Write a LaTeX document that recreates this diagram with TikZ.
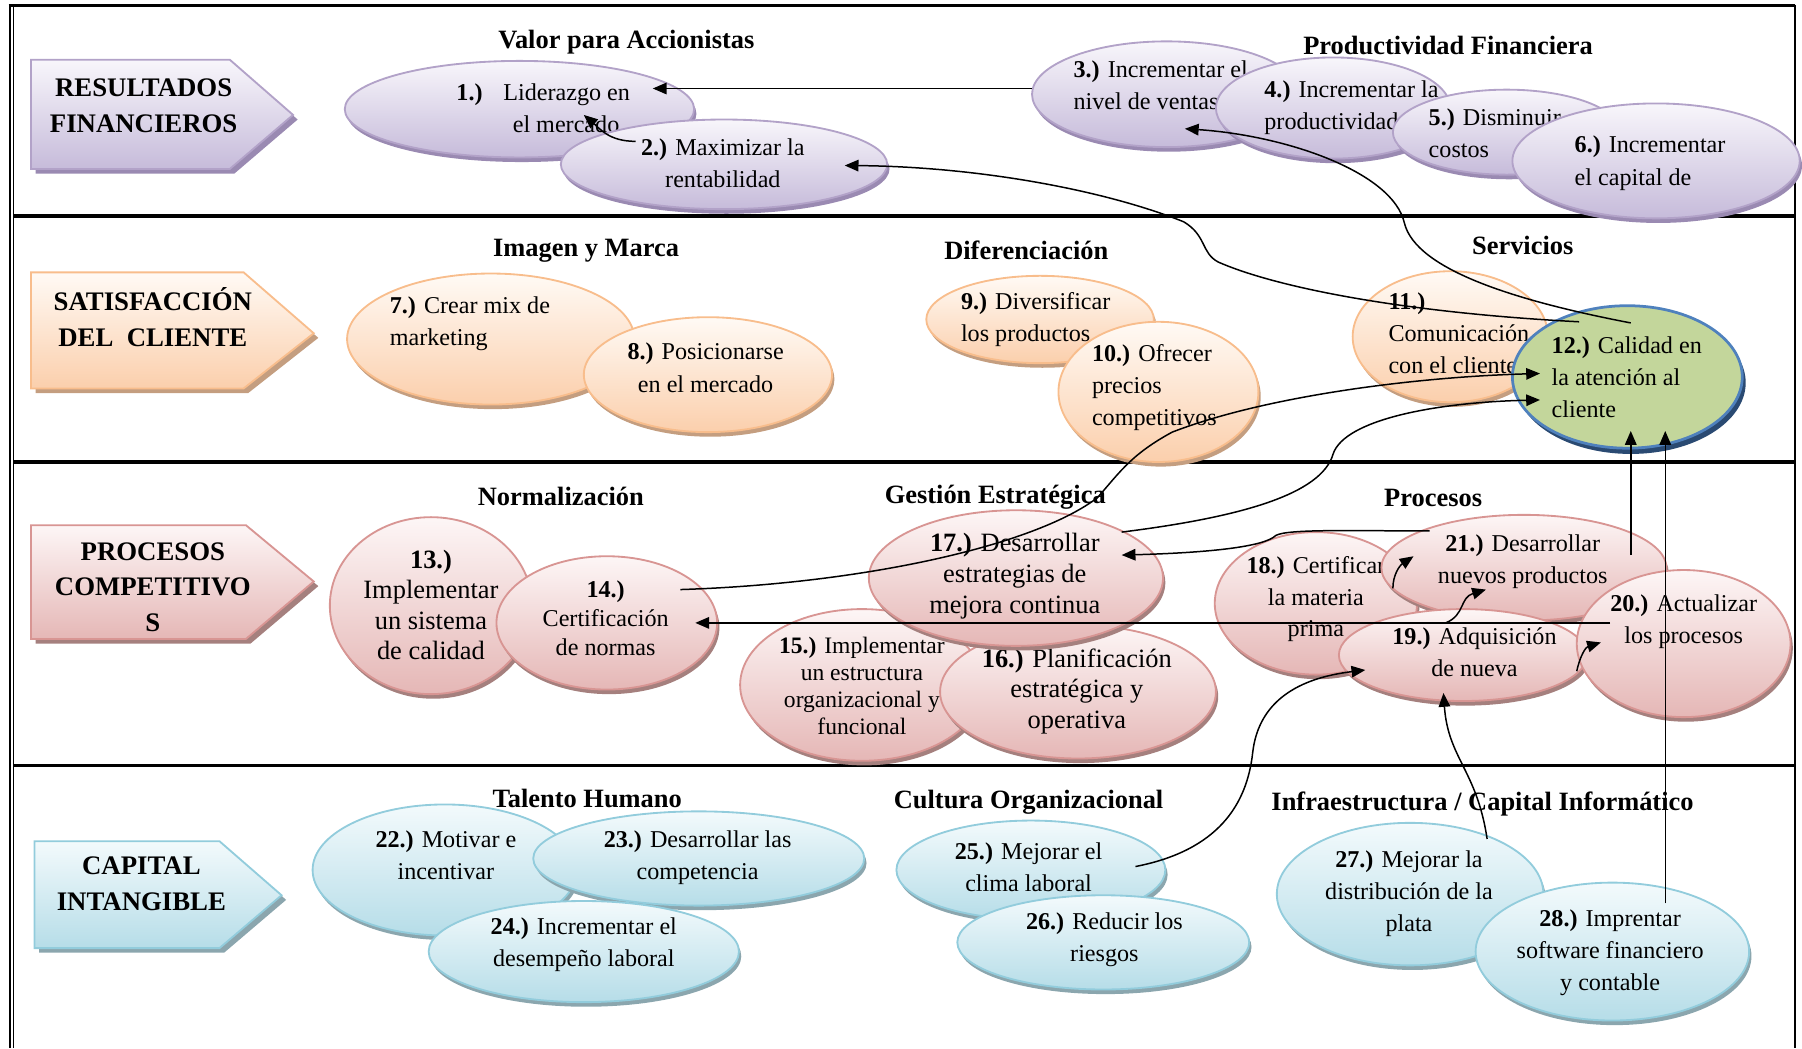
\documentclass[tikz,border=0pt]{standalone}
\usepackage{fontspec}
\setmainfont{Liberation Serif}
\usetikzlibrary{shapes.geometric,shadows,arrows.meta,calc}

% fills, borders and shadow tones of the four perspectives
\definecolor{purTop}{HTML}{F8F6FB}
\definecolor{purBot}{HTML}{C6BBDA}
\definecolor{purLine}{HTML}{B2A2C8}
\definecolor{purShade}{HTML}{9A8AB2}
\definecolor{pchTop}{HTML}{FFFAF5}
\definecolor{pchBot}{HTML}{FBCFAC}
\definecolor{pchLine}{HTML}{F8BD8C}
\definecolor{pchShade}{HTML}{C49E80}
\definecolor{rosTop}{HTML}{FDF6F6}
\definecolor{rosBot}{HTML}{E5B7B6}
\definecolor{rosLine}{HTML}{D89593}
\definecolor{rosShade}{HTML}{A5807E}
\definecolor{bluTop}{HTML}{F3FAFC}
\definecolor{bluBot}{HTML}{B6DDE8}
\definecolor{bluLine}{HTML}{92CCDC}
\definecolor{bluShade}{HTML}{8BA6AE}
\definecolor{grnFill}{HTML}{C3D69B}
\definecolor{grnLine}{HTML}{4F81BD}
\definecolor{grnShade}{HTML}{2A4A72}

\newcommand\nro[1]{\textbf{#1.)}}

\tikzset{
  bub/.style={ellipse, inner sep=0pt, outer sep=0pt, line width=1.6pt},
  bubpur/.style={bub, draw=purLine, top color=purTop, bottom color=purBot,
    drop shadow={shadow xshift=2pt, shadow yshift=-4pt, fill=purShade, opacity=1}},
  bubpch/.style={bub, draw=pchLine, top color=pchTop, bottom color=pchBot,
    drop shadow={shadow xshift=2pt, shadow yshift=-4pt, fill=pchShade, opacity=1}},
  bubros/.style={bub, draw=rosLine, top color=rosTop, bottom color=rosBot,
    drop shadow={shadow xshift=2pt, shadow yshift=-4pt, fill=rosShade, opacity=1}},
  bubblu/.style={bub, draw=bluLine, top color=bluTop, bottom color=bluBot,
    drop shadow={shadow xshift=2pt, shadow yshift=-4pt, fill=bluShade, opacity=1}},
  bubgrn/.style={bub, draw=grnLine, line width=2.4pt, fill=grnFill,
    drop shadow={shadow xshift=3pt, shadow yshift=-5pt, fill=grnShade, opacity=1}},
  txt/.style={inner sep=0pt, align=center, font=\fontsize{21}{28}\selectfont},
  ltxt/.style={txt, align=left, anchor=west},
  bigtxt/.style={txt, font=\fontsize{23}{26.5}\selectfont},
  ttl/.style={inner sep=0pt, font=\bfseries\fontsize{23}{27}\selectfont},
  rowtxt/.style={inner sep=0pt, align=center, font=\bfseries\fontsize{23.3}{31}\selectfont},
  sign/.style={line width=1.6pt},
  arr/.style={line width=1.3pt, -{Triangle[length=12pt,width=10pt]}},
}

\begin{document}
\begin{tikzpicture}[x=1pt, y=-1pt]
\useasboundingbox (0,0) rectangle (1568,912);

% ---- frame and row separators
\draw[line width=2.6pt] (7.4,5) -- (1562,5);
\draw[line width=1.8pt] (8.3,3.7) -- (8.3,912);
\draw[line width=1pt] (11.5,6.3) -- (11.5,912);
\draw[line width=2pt] (1562,4) -- (1562,912);
\foreach \yy in {188,402,666}
  \draw[line width=3pt] (11.5,\yy) -- (1562,\yy);

% ---- perspective signs
\path[sign, draw=purLine, top color=purTop, bottom color=purBot,
  drop shadow={shadow xshift=4pt, shadow yshift=-4pt, fill=purShade, opacity=1}]
  (27,52) -- (200,52) -- (255,100) -- (200,147) -- (27,147) -- cycle;
\node[rowtxt] (r1) at (125,92) {RESULTADOS\\FINANCIEROS};

\path[sign, draw=pchLine, top color=pchTop, bottom color=pchBot,
  drop shadow={shadow xshift=4pt, shadow yshift=-4pt, fill=pchShade, opacity=1}]
  (27,237) -- (212,237) -- (273,290) -- (212,338) -- (27,338) -- cycle;
\node[rowtxt] (r2) at (133,276) {SATISFACCIÓN\\DEL\ \ CLIENTE};

\path[sign, draw=rosLine, top color=rosTop, bottom color=rosBot,
  drop shadow={shadow xshift=4pt, shadow yshift=-4pt, fill=rosShade, opacity=1}]
  (27,457) -- (214,457) -- (273,506) -- (214,556) -- (27,556) -- cycle;
\node[rowtxt] (r3) at (133,511) {PROCESOS\\COMPETITIVO\\S};

\path[sign, draw=bluLine, top color=bluTop, bottom color=bluBot,
  drop shadow={shadow xshift=4pt, shadow yshift=-4pt, fill=bluShade, opacity=1}]
  (30,732) -- (191,732) -- (245,779) -- (191,825) -- (30,825) -- cycle;
\node[rowtxt] (r4) at (123,769) {CAPITAL\\INTANGIBLE};

% ---- group titles
\node[ttl] (g1) at (545,37) {Valor para Accionistas};
\node[ttl] (g2) at (1260,40) {Productividad Financiera};
\node[ttl] (g3) at (510,218) {Imagen y Marca};
\node[ttl] (g4) at (893,218) {Diferenciación};
\node[ttl] (g5) at (1325,214) {Servicios};
\node[ttl] (g6) at (488,432) {Normalización};
\node[ttl] (g7) at (866,433) {Gestión Estratégica};
\node[ttl] (g8) at (1247,433) {Procesos};
\node[ttl] (g9) at (511,695) {Talento Humano};
\node[ttl] (g10) at (895,698) {Cultura Organizacional};
\node[ttl] (g11) at (1290,700) {Infraestructura / Capital Informático};

% ---- financial results
\node[bubpur, minimum width=304pt, minimum height=84pt] (e1) at (452,95) {};
\node[ltxt] (t1) at (397,94) {\nro{1}\hspace{18pt}Liderazgo en\\\hspace*{49pt}el mercado};
\node[bubpur, minimum width=284pt, minimum height=78pt] (e2) at (630,143) {};
\node[txt] (t2) at (629,142) {\nro{2} Maximizar la\\rentabilidad};
\node[bubpur, minimum width=234pt, minimum height=92pt] (e3) at (1015,82) {};
\node[ltxt] (t3) at (934,74) {\nro{3} Incrementar el\\nivel de ventas};
\node[bubpur, minimum width=204pt, minimum height=88pt] (e4) at (1160,94) {};
\node[ltxt] (t4) at (1100,93.5) {\nro{4} Incrementar la\\productividad};
\node[bubpur, minimum width=198pt, minimum height=74pt] (e5) at (1311,115) {};
\node[ltxt] (t5) at (1243,116) {\nro{5} Disminuir\\costos};
\node[bubpur, minimum width=250pt, minimum height=100pt] (e6) at (1441,140) {};
\node[ltxt] (t6) at (1370,142) {\nro{6} Incrementar\\el capital de};

% ---- customer satisfaction
\node[bubpch, minimum width=250pt, minimum height=114pt] (e7) at (427,295) {};
\node[ltxt] (t7) at (339,282) {\nro{7} Crear mix de\\marketing};
\node[bubpch, minimum width=216pt, minimum height=100pt] (e8) at (616,326) {};
\node[txt] (t8) at (614,320) {\nro{8} Posicionarse\\en el mercado};
\node[bubpch, minimum width=198pt, minimum height=76pt] (e9) at (905,278) {};
\node[ltxt] (t9) at (836,278) {\nro{9} Diversificar\\los productos};
\node[bubpch, minimum width=174pt, minimum height=122pt] (e10) at (1008,341) {};
\node[ltxt] (t10) at (950,337.5) {\nro{10} Ofrecer\\precios\\competitivos};
\node[bubpch, minimum width=170pt, minimum height=114pt] (e11) at (1262,293) {};
\node[ltxt] (t11) at (1208,290) {\nro{11}\\Comunicación\\con el cliente};
\node[bubgrn, minimum width=200pt, minimum height=124pt] (e12) at (1416,328) {};
\node[ltxt] (t12) at (1350,328) {\nro{12} Calidad en\\la atención al\\cliente};

% ---- competitive processes
\node[bubros, minimum width=176pt, minimum height=154pt] (e13) at (375,527) {};
\node[bigtxt] (t13) at (375,526.5) {\nro{13}\\Implementar\\un sistema\\de calidad};
\node[bubros, minimum width=192pt, minimum height=116pt] (e14) at (528,542) {};
\node[txt, font=\fontsize{21}{25}\selectfont] (t14) at (527,538) {\nro{14}\\Certificación\\de normas};
\node[bubros, minimum width=212pt, minimum height=132pt] (e15) at (750,596) {};
\node[txt, font=\fontsize{20.5}{23.5}\selectfont] (t15) at (750,597) {\nro{15} Implementar\\un estructura\\organizacional y\\funcional};
\node[bubros, minimum width=240pt, minimum height=116pt] (e16) at (938,602) {};
\node[bigtxt] (t16) at (937,601.5) {\nro{16} Planificación\\estratégica y\\operativa};
\node[bubros, minimum width=256pt, minimum height=118pt] (e17) at (884,503) {};
\node[bigtxt, font=\fontsize{23}{27}\selectfont] (t17) at (883,501) {\nro{17} Desarrollar\\estrategias de\\mejora continua};
\node[bubros, minimum width=176pt, minimum height=124pt] (e18) at (1145,525) {};
\node[txt, font=\fontsize{21}{27.5}\selectfont] (t18) at (1145,521.5) {\nro{18} Certificar\\la materia\\prima};
\node[bubros, minimum width=248pt, minimum height=92pt] (e21) at (1326,494) {};
\node[txt] (t21) at (1325,488.5) {\nro{21} Desarrollar\\nuevos productos};
\node[bubros, minimum width=216pt, minimum height=80pt] (e19) at (1273,570) {};
\node[txt] (t19) at (1283,567.5) {\nro{19} Adquisición\\de nueva};
\node[bubros, minimum width=186pt, minimum height=128pt] (e20) at (1465,560) {};
\node[txt] (t20) at (1465,541) {\nro{20} Actualizar\\los procesos};

% ---- intangible capital
\node[bubblu, minimum width=230pt, minimum height=114pt] (e22) at (387,757) {};
\node[txt] (t22) at (388,744) {\nro{22} Motivar e\\incentivar};
\node[bubblu, minimum width=288pt, minimum height=82pt] (e23) at (608,747) {};
\node[txt] (t23) at (607,746) {\nro{23} Desarrollar las\\competencia};
\node[bubblu, minimum width=270pt, minimum height=88pt] (e24) at (508,828) {};
\node[txt] (t24) at (508,822) {\nro{24} Incrementar el\\desempeño laboral};
\node[bubblu, minimum width=234pt, minimum height=86pt] (e25) at (897,757) {};
\node[txt] (t25) at (895,754.5) {\nro{25} Mejorar el\\clima laboral};
\node[bubblu, minimum width=254pt, minimum height=82pt] (e26) at (960,820) {};
\node[txt] (t26) at (961,818) {\nro{26} Reducir los\\riesgos};
\node[bubblu, minimum width=232pt, minimum height=124pt] (e27) at (1227,778) {};
\node[txt] (t27) at (1226,777.5) {\nro{27} Mejorar la\\distribución de la\\plata};
\node[bubblu, minimum width=238pt, minimum height=120pt] (e28) at (1403,828) {};
\node[txt] (t28) at (1401,829) {\nro{28} Imprentar\\software financiero\\y contable};

% ---- cause-effect links
\draw[arr] ($(e3.center)+(-117,-5)$) -- ($(e1.center)+(116,-18)$);
\draw[arr] ($(e2.center)+(-77,-20)$) .. controls (530,123) and (522,112) .. ($(e1.center)+(56,5)$);
\draw[arr] ($(e12.center)+(-42,-48)$) .. controls (1220,272) and (1110,250) .. (1060,228)
  .. controls (1045,220) and (1050,205) .. (1030,193)
  .. controls (960,165) and (850,145) .. ($(e2.center)+(105,1)$);
\draw[arr] ($(e12.center)+(3,-47)$) .. controls (1320,262) and (1232,235) .. (1222,194)
  .. controls (1212,150) and (1120,118) .. ($(e3.center)+(16,30)$);
\draw[arr] ($(e14.center)+(64,-29)$) .. controls (750,508) and (900,475) .. (955,433)
  .. controls (975,410) and (985,395) .. (1020,376)
  .. controls (1100,345) and (1230,328) .. ($(e12.center)+(-76,-3)$);
\draw[arr] ($(e17.center)+(92,-40)$) .. controls (1080,450) and (1150,430) .. (1160,395)
  .. controls (1170,365) and (1250,350) .. ($(e12.center)+(-76,20)$);
\draw[arr] ($(e21.center)+(93,-11)$) -- ($(e12.center)+(3,47)$);
\draw[arr] ($(e28.center)+(46,-42)$) -- ($(e12.center)+(33,47)$);
\draw[arr] ($(e21.center)+(-82,-32)$) .. controls (1180,462) and (1120,460) .. (1110,466)
  .. controls (1100,476) and (1050,481) .. ($(e17.center)+(92,-20)$);
\draw[arr] ($(e20.center)+(-64,-18)$) -- ($(e14.center)+(77,0)$);
\draw[arr] ($(e18.center)+(67,-13)$) .. controls (1212,500) and (1218,492) .. ($(e21.center)+(-96,-10)$);
\draw[arr] ($(e19.center)+(-15,-28)$) .. controls (1275,535) and (1270,520) .. ($(e21.center)+(-33,19)$);
\draw[arr] ($(e19.center)+(99,14)$) .. controls (1375,570) and (1380,563) .. ($(e20.center)+(-72,-1)$);
\draw[arr] ($(e25.center)+(91,-3)$) .. controls (1060,740) and (1085,700) .. (1090,655)
  .. controls (1095,610) and (1130,590) .. ($(e19.center)+(-85,13)$);
\draw[arr] ($(e27.center)+(67,-48)$) .. controls (1285,670) and (1260,660) .. ($(e19.center)+(-17,33)$);
\end{tikzpicture}
\end{document}
